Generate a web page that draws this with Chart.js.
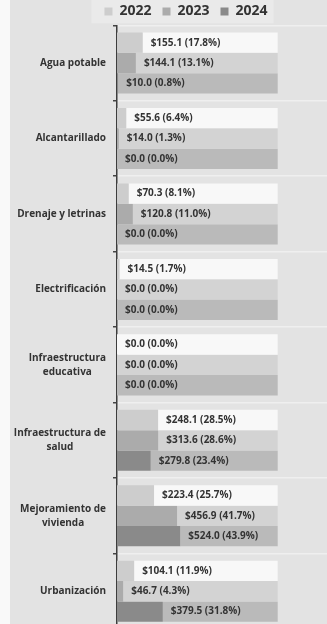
<!DOCTYPE html>
<html lang="es">
<head>
<meta charset="utf-8">
<title>Inversión por rubro 2022-2024</title>
<script src="https://cdn.jsdelivr.net/npm/chart.js@4.4.1/dist/chart.umd.min.js"></script>
<style>
  html, body { margin: 0; padding: 0; overflow: hidden; background: #f9f9f9; }
  .chart-box { position: absolute; left: 10px; top: 0; width: 352px; height: 629px; background: #e3e3e3; }
</style>
</head>
<body>
<div class="chart-box"><canvas id="myChart"></canvas></div>
<script>
const categories = [
    'Agua potable',
    'Alcantarillado',
    'Drenaje y letrinas',
    'Electrificación',
    ['Infraestructura', 'educativa'],
    ['Infraestructura de', 'salud'],
    ['Mejoramiento de', 'vivienda'],
    'Urbanización'
];
const years = ['2022', '2023', '2024'];

// monto invertido (millones)
const amounts2022 = [155.1, 55.6, 70.3, 14.5, 0.0, 248.1, 223.4, 104.1];
const amounts2023 = [144.1, 14.0, 120.8, 0.0, 0.0, 313.6, 456.9, 46.7];
const amounts2024 = [10.0, 0.0, 0.0, 0.0, 0.0, 279.8, 524.0, 379.5];

// % del total de cada año
const share2022 = [17.8, 6.4, 8.1, 1.7, 0.0, 28.5, 25.7, 11.9];
const share2023 = [13.1, 1.3, 11.0, 0.0, 0.0, 28.6, 41.7, 4.3];
const share2024 = [0.8, 0.0, 0.0, 0.0, 0.0, 23.4, 43.9, 31.8];

const amounts = [amounts2022, amounts2023, amounts2024];
const shares = [share2022, share2023, share2024];

const barColors = ['#cdcdcd', '#ababab', '#8a8a8a'];
const boxColors = ['#f8f8f8', '#d3d3d3', '#bababa'];

// bars are drawn on the % scale, the label box runs from the bar end to LABEL_END
const LABEL_END = 111.5;
const X_MAX = 170;

const datasets = [];
years.forEach((year, i) => {
    datasets.push({
        label: year,
        data: shares[i],
        backgroundColor: barColors[i],
        stack: year
    });
    datasets.push({
        label: year + ' etiqueta',
        data: shares[i].map(p => [p, LABEL_END]),
        backgroundColor: boxColors[i],
        stack: year,
        amounts: amounts[i],
        shares: shares[i]
    });
});

const FONT = "'Open Sans', 'Noto Sans', sans-serif";

const legendBackground = {
    id: 'legendBackground',
    beforeDraw(chart) {
        const boxes = chart.legend.legendHitBoxes;
        if (!boxes || !boxes.length) return;
        const first = boxes[0], last = boxes[boxes.length - 1];
        const ctx = chart.ctx;
        ctx.save();
        ctx.fillStyle = '#eaeaea';
        ctx.fillRect(first.left - 13, 0, last.left + last.width + 6 - (first.left - 13), chart.legend.bottom - 2);
        ctx.restore();
    }
};

const categoryLabels = {
    id: 'categoryLabels',
    afterDraw(chart) {
        const { ctx, scales: { y } } = chart;
        ctx.save();
        ctx.font = 'bold 10px ' + FONT;
        ctx.fillStyle = '#333';
        ctx.textAlign = 'center';
        ctx.textBaseline = 'middle';
        chart.data.labels.forEach((label, i) => {
            const lines = [].concat(label);
            const widest = Math.max(...lines.map(l => ctx.measureText(l).width));
            const cx = y.right - 11 - widest / 2;
            const top = y.getPixelForTick(i) - (lines.length - 1) * 14 / 2;
            lines.forEach((l, j) => ctx.fillText(l, cx, top + j * 14));
        });
        ctx.restore();
    }
};

const valueLabels = {
    id: 'valueLabels',
    afterDatasetsDraw(chart) {
        const ctx = chart.ctx;
        ctx.save();
        ctx.font = 'bold 10px ' + FONT;
        ctx.fillStyle = '#333';
        ctx.textAlign = 'left';
        ctx.textBaseline = 'middle';
        chart.data.datasets.forEach((ds, di) => {
            if (!ds.amounts) return;
            chart.getDatasetMeta(di).data.forEach((bar, i) => {
                const text = '$' + ds.amounts[i].toFixed(1) + ' (' + ds.shares[i].toFixed(1) + '%)';
                ctx.fillText(text, Math.min(bar.base, bar.x) + 8, bar.y);
            });
        });
        ctx.restore();
    }
};

const renderChart = () => {
    const ctx = document.getElementById('myChart').getContext('2d');
    new Chart(ctx, {
        type: 'bar',
        data: {
            labels: categories,
            datasets: datasets
        },
        plugins: [legendBackground, categoryLabels, valueLabels],
        options: {
            indexAxis: 'y',
            responsive: true,
            maintainAspectRatio: false,
            animation: false,
            layout: { padding: { top: -6.5, left: 0, right: 0, bottom: 0 } },
            datasets: {
                bar: {
                    barPercentage: 1,
                    categoryPercentage: 0.809,
                    borderWidth: 0
                }
            },
            scales: {
                // floating label boxes must not stack on top of the bars
                x: { display: false, stacked: false, min: 0, max: X_MAX },
                y: {
                    grid: {
                        color: '#efefef',
                        lineWidth: 1.5,
                        tickColor: '#444',
                        tickLength: 4,
                        tickWidth: 1.5
                    },
                    border: { color: '#3d3d3d', width: 1.5 },
                    ticks: { display: false },
                    afterFit: (scale) => { scale.width = 107; }
                }
            },
            plugins: {
                tooltip: { enabled: false },
                legend: {
                    position: 'top',
                    maxHeight: 31.8,
                    labels: {
                        boxWidth: 8,
                        boxHeight: 8,
                        padding: 11,
                        color: '#333',
                        font: { family: FONT, size: 14, weight: 'bold' },
                        filter: (item, data) => !data.datasets[item.datasetIndex].amounts
                    }
                }
            }
        }
    });
};

renderChart();
</script>
</body>
</html>
